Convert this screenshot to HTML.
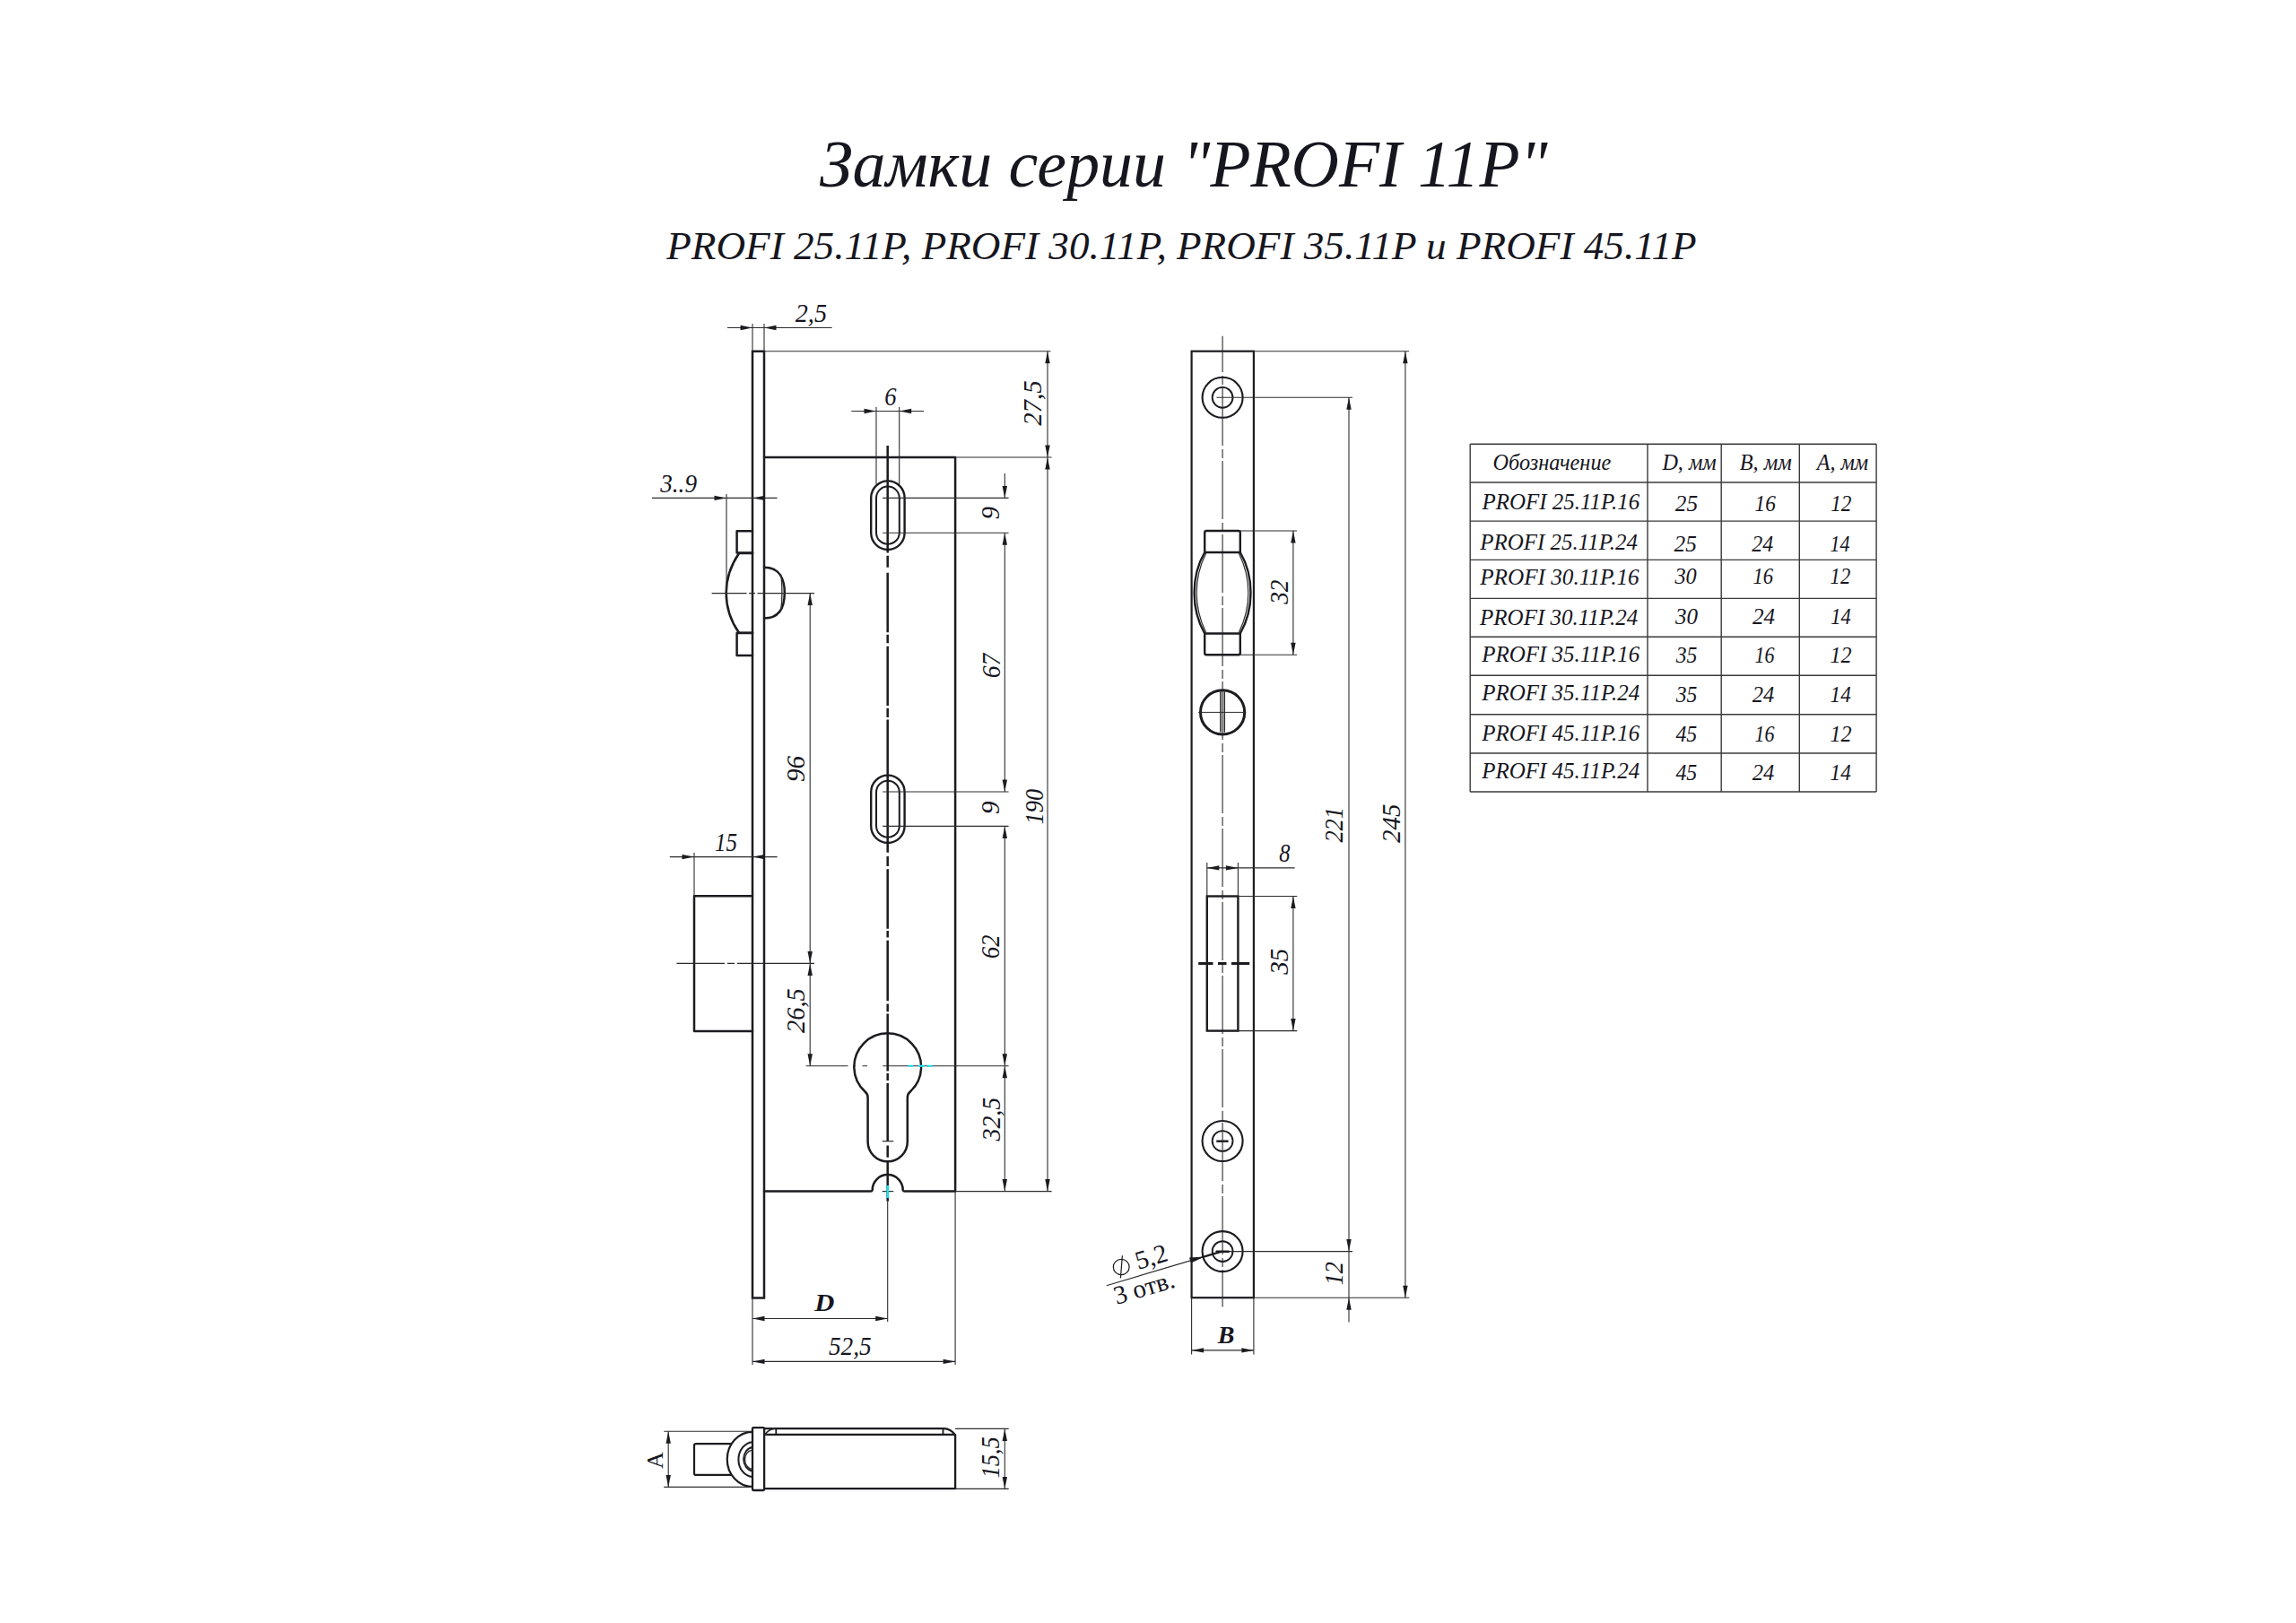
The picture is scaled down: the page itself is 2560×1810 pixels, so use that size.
<!DOCTYPE html>
<html><head><meta charset="utf-8"><style>
html,body{margin:0;padding:0;background:#fff;}
body{width:2560px;height:1810px;overflow:hidden;}
svg{display:block;}
text{-webkit-font-smoothing:antialiased;}
</style></head><body>
<svg width="2560" height="1810" viewBox="0 0 2560 1810">
<rect width="2560" height="1810" fill="#fff"/>
<g transform="translate(914.00 208.40) scale(0.9848 1)"><text font-family="Liberation Serif" font-size="75" font-style="italic" font-weight="normal" fill="#16161e">Замки серии "PROFI 11P"</text></g>
<g transform="translate(743.25 289.10) scale(1.0042 1)"><text font-family="Liberation Serif" font-size="45" font-style="italic" font-weight="normal" fill="#16161e">PROFI 25.11P, PROFI 30.11P, PROFI 35.11P и PROFI 45.11P</text></g>
<rect x="839.0" y="391.8" width="13.0" height="1055.7" rx="0" stroke="#1c1c20" stroke-width="2.5" fill="none"/>
<path d="M852.0,510 L1065.1,510 L1065.1,1328.6 L1008.7,1328.6 A2 2 0 0 1 1006.7,1327.1 A17.0 17.0 0 0 0 972.7,1327.1 A2 2 0 0 1 970.7,1328.6 L852.0,1328.6" stroke="#1c1c20" stroke-width="2.5" fill="none" stroke-linejoin="round" stroke-linecap="round"/>
<rect x="971.2" y="536.4" width="37.4" height="76.6" rx="18.7" stroke="#1c1c20" stroke-width="2.4" fill="none"/>
<rect x="977.0" y="542.6" width="25.8" height="64.2" rx="12.9" stroke="#1c1c20" stroke-width="2.0" fill="none"/>
<rect x="971.2" y="864.6" width="37.4" height="75.4" rx="18.7" stroke="#1c1c20" stroke-width="2.4" fill="none"/>
<rect x="977.0" y="870.8" width="25.8" height="63.0" rx="12.9" stroke="#1c1c20" stroke-width="2.0" fill="none"/>
<path d="M989.7,497.0V616.4 M989.7,619.8V632.8 M989.7,638.8V705.2 M989.7,707.8V717.2 M989.7,720.7V787.0 M989.7,789.7V800.0 M989.7,802.6V950.8 M989.7,955.0V966.0 M989.7,969.3V1035.7 M989.7,1037.9V1045.5 M989.7,1048.8V1116.3 M989.7,1119.5V1128.3 M989.7,1130.4V1194.5 M989.7,1197.0V1205.0 M989.7,1208.0V1273.0 M989.7,1277.6V1290.7 M989.7,1295.0V1339.7" stroke="#1c1c20" stroke-width="2.5" fill="none"/>
<path d="M967.6,1273.2 L967.6,1224 Q967.6,1220 964.6,1217.5 A37.4 37.4 0 1 1 1014.8,1217.5 Q1011.8,1220 1011.8,1224 L1011.8,1273.2 A22.1 22.1 0 0 1 967.6,1273.2 Z" stroke="#1c1c20" stroke-width="2.5" fill="none" stroke-linejoin="round" stroke-linecap="round"/>
<line x1="983.7" y1="1272.7" x2="996.2" y2="1272.7" stroke="#2c2c2c" stroke-width="1.2" stroke-linecap="butt"/>
<line x1="983.7" y1="1328.6" x2="996.2" y2="1328.6" stroke="#2c2c2c" stroke-width="1.2" stroke-linecap="butt"/>
<path d="M839.0,592.3 L821.6,592.3 L821.6,616.6 L839.0,616.6" stroke="#1c1c20" stroke-width="2.5" fill="none" stroke-linejoin="round" stroke-linecap="round"/>
<path d="M839.0,617 L824,617 Q809.7,638 809.7,661.4 Q809.7,685 824,705.8 L839.0,705.8" stroke="#1c1c20" stroke-width="2.5" fill="none" stroke-linejoin="round" stroke-linecap="round"/>
<path d="M839.0,705.9 L821.6,705.9 L821.6,730.9 L839.0,730.9" stroke="#1c1c20" stroke-width="2.5" fill="none" stroke-linejoin="round" stroke-linecap="round"/>
<path d="M852.0,632.8 C870,632.8 874.8,647 874.8,661 C874.8,676 870,689.5 852.0,689.5" stroke="#1c1c20" stroke-width="2.5" fill="none" stroke-linejoin="round" stroke-linecap="round"/>
<path d="M870.6,641 C872.3,650 872.3,671 870.6,680" stroke="#2c2c2c" stroke-width="1.3" fill="none" stroke-linejoin="round" stroke-linecap="round"/>
<path d="M839.0,999.3 L774,999.3 L774,1150 L839.0,1150" stroke="#1c1c20" stroke-width="2.5" fill="none" stroke-linejoin="round" stroke-linecap="round"/>
<line x1="839.0" y1="361.0" x2="839.0" y2="391.8" stroke="#2c2c2c" stroke-width="1.1" stroke-linecap="butt"/>
<line x1="852.0" y1="361.0" x2="852.0" y2="391.8" stroke="#2c2c2c" stroke-width="1.1" stroke-linecap="butt"/>
<line x1="811.0" y1="365.5" x2="927.6" y2="365.5" stroke="#2c2c2c" stroke-width="1.1" stroke-linecap="butt"/>
<polygon points="839.0,365.5 825.5,362.8 825.5,368.2" fill="#1c1c20"/>
<polygon points="852.0,365.5 865.5,362.8 865.5,368.2" fill="#1c1c20"/>
<g transform="translate(886.80 359.00) scale(0.9874 1)"><text font-family="Liberation Serif" font-size="28.5" font-style="italic" font-weight="normal" fill="#16161e">2,5</text></g>
<line x1="852.0" y1="391.8" x2="1171.5" y2="391.8" stroke="#2c2c2c" stroke-width="1.1" stroke-linecap="butt"/>
<line x1="1065.1" y1="510.0" x2="1172.6" y2="510.0" stroke="#2c2c2c" stroke-width="1.1" stroke-linecap="butt"/>
<line x1="1168.0" y1="391.8" x2="1168.0" y2="1328.6" stroke="#2c2c2c" stroke-width="1.1" stroke-linecap="butt"/>
<polygon points="1168.0,391.8 1165.3,405.3 1170.7,405.3" fill="#1c1c20"/>
<polygon points="1168.0,510.0 1165.3,496.5 1170.7,496.5" fill="#1c1c20"/>
<polygon points="1168.0,510.0 1165.3,523.5 1170.7,523.5" fill="#1c1c20"/>
<polygon points="1168.0,1328.6 1165.3,1315.1 1170.7,1315.1" fill="#1c1c20"/>
<g transform="translate(1152.0 449.5) rotate(-90) scale(1.0140 1)"><text x="-25.00" y="9.41" font-family="Liberation Serif" font-size="28.5" font-style="italic" font-weight="normal" fill="#16161e">27,5</text></g>
<g transform="translate(1153.1 899.6) rotate(-90) scale(0.9263 1)"><text x="-21.38" y="9.41" font-family="Liberation Serif" font-size="28.5" font-style="italic" font-weight="normal" fill="#16161e">190</text></g>
<line x1="977.0" y1="454.0" x2="977.0" y2="540.0" stroke="#2c2c2c" stroke-width="1.1" stroke-linecap="butt"/>
<line x1="1002.7" y1="454.0" x2="1002.7" y2="540.0" stroke="#2c2c2c" stroke-width="1.1" stroke-linecap="butt"/>
<line x1="949.3" y1="458.5" x2="1030.0" y2="458.5" stroke="#2c2c2c" stroke-width="1.1" stroke-linecap="butt"/>
<polygon points="977.0,458.5 963.5,455.8 963.5,461.2" fill="#1c1c20"/>
<polygon points="1002.7,458.5 1016.2,455.8 1016.2,461.2" fill="#1c1c20"/>
<g transform="translate(986.20 451.50) scale(0.9333 1)"><text font-family="Liberation Serif" font-size="28.5" font-style="italic" font-weight="normal" fill="#16161e">6</text></g>
<line x1="984.2" y1="555.4" x2="1124.6" y2="555.4" stroke="#2c2c2c" stroke-width="1.1" stroke-linecap="butt"/>
<line x1="984.2" y1="594.2" x2="1124.6" y2="594.2" stroke="#2c2c2c" stroke-width="1.1" stroke-linecap="butt"/>
<line x1="984.2" y1="883.0" x2="1124.6" y2="883.0" stroke="#2c2c2c" stroke-width="1.1" stroke-linecap="butt"/>
<line x1="984.2" y1="921.4" x2="1124.6" y2="921.4" stroke="#2c2c2c" stroke-width="1.1" stroke-linecap="butt"/>
<line x1="1120.3" y1="528.0" x2="1120.3" y2="555.4" stroke="#2c2c2c" stroke-width="1.1" stroke-linecap="butt"/>
<polygon points="1120.3,555.4 1117.6,541.9 1123.0,541.9" fill="#1c1c20"/>
<line x1="1120.3" y1="594.2" x2="1120.3" y2="883.0" stroke="#2c2c2c" stroke-width="1.1" stroke-linecap="butt"/>
<polygon points="1120.3,594.2 1117.6,607.7 1123.0,607.7" fill="#1c1c20"/>
<polygon points="1120.3,883.0 1117.6,869.5 1123.0,869.5" fill="#1c1c20"/>
<line x1="1120.3" y1="921.4" x2="1120.3" y2="1328.6" stroke="#2c2c2c" stroke-width="1.1" stroke-linecap="butt"/>
<polygon points="1120.3,921.4 1117.6,934.9 1123.0,934.9" fill="#1c1c20"/>
<polygon points="1120.3,1188.8 1117.6,1175.3 1123.0,1175.3" fill="#1c1c20"/>
<polygon points="1120.3,1188.8 1117.6,1202.3 1123.0,1202.3" fill="#1c1c20"/>
<polygon points="1120.3,1328.6 1117.6,1315.1 1123.0,1315.1" fill="#1c1c20"/>
<g transform="translate(1104.6 572.0) rotate(-90) scale(1.0035 1)"><text x="-7.12" y="9.41" font-family="Liberation Serif" font-size="28.5" font-style="italic" font-weight="normal" fill="#16161e">9</text></g>
<g transform="translate(1105.4 742.0) rotate(-90) scale(0.9729 1)"><text x="-14.75" y="9.41" font-family="Liberation Serif" font-size="28.5" font-style="italic" font-weight="normal" fill="#16161e">67</text></g>
<g transform="translate(1104.5 900.7) rotate(-90) scale(1.0105 1)"><text x="-7.12" y="9.41" font-family="Liberation Serif" font-size="28.5" font-style="italic" font-weight="normal" fill="#16161e">9</text></g>
<g transform="translate(1104.4 1055.8) rotate(-90) scale(0.9263 1)"><text x="-14.25" y="9.41" font-family="Liberation Serif" font-size="28.5" font-style="italic" font-weight="normal" fill="#16161e">62</text></g>
<g transform="translate(1105.5 1248.2) rotate(-90) scale(0.9731 1)"><text x="-24.88" y="9.41" font-family="Liberation Serif" font-size="28.5" font-style="italic" font-weight="normal" fill="#16161e">32,5</text></g>
<line x1="1065.1" y1="1328.6" x2="1172.6" y2="1328.6" stroke="#2c2c2c" stroke-width="1.1" stroke-linecap="butt"/>
<line x1="727.0" y1="555.4" x2="866.6" y2="555.4" stroke="#2c2c2c" stroke-width="1.1" stroke-linecap="butt"/>
<polygon points="810.0,555.4 796.5,552.7 796.5,558.1" fill="#1c1c20"/>
<polygon points="839.0,555.4 852.5,552.7 852.5,558.1" fill="#1c1c20"/>
<line x1="810.0" y1="551.0" x2="810.0" y2="661.0" stroke="#2c2c2c" stroke-width="1.1" stroke-linecap="butt"/>
<g transform="translate(736.24 549.00) scale(0.9535 1)"><text font-family="Liberation Serif" font-size="28.5" font-style="italic" font-weight="normal" fill="#16161e">3..9</text></g>
<path d="M793.6,661.6H832.5 M835.0,661.6H842.0 M844.5,661.6H908.0" stroke="#2c2c2c" stroke-width="1.1" fill="none"/>
<line x1="903.2" y1="661.6" x2="903.2" y2="1188.8" stroke="#2c2c2c" stroke-width="1.1" stroke-linecap="butt"/>
<polygon points="903.2,661.6 900.5,675.1 905.9,675.1" fill="#1c1c20"/>
<polygon points="903.2,1074.4 900.5,1060.9 905.9,1060.9" fill="#1c1c20"/>
<polygon points="903.2,1074.4 900.5,1087.9 905.9,1087.9" fill="#1c1c20"/>
<polygon points="903.2,1188.8 900.5,1175.3 905.9,1175.3" fill="#1c1c20"/>
<g transform="translate(887.5 857.4) rotate(-90) scale(1.0211 1)"><text x="-14.25" y="9.41" font-family="Liberation Serif" font-size="28.5" font-style="italic" font-weight="normal" fill="#16161e">96</text></g>
<g transform="translate(887.2 1127.1) rotate(-90) scale(0.9960 1)"><text x="-25.00" y="9.41" font-family="Liberation Serif" font-size="28.5" font-style="italic" font-weight="normal" fill="#16161e">26,5</text></g>
<line x1="746.8" y1="955.6" x2="866.6" y2="955.6" stroke="#2c2c2c" stroke-width="1.1" stroke-linecap="butt"/>
<polygon points="774.0,955.6 760.5,952.9 760.5,958.3" fill="#1c1c20"/>
<polygon points="839.0,955.6 852.5,952.9 852.5,958.3" fill="#1c1c20"/>
<line x1="774.0" y1="951.0" x2="774.0" y2="999.3" stroke="#2c2c2c" stroke-width="1.1" stroke-linecap="butt"/>
<g transform="translate(797.00 948.60) scale(0.8772 1)"><text font-family="Liberation Serif" font-size="28.5" font-style="italic" font-weight="normal" fill="#16161e">15</text></g>
<path d="M754.4,1074.4H808.0 M811.0,1074.4H819.0 M822.0,1074.4H908.0" stroke="#2c2c2c" stroke-width="1.1" fill="none"/>
<path d="M898.6,1188.8H945.5 M951.0,1188.8H954.0 M961.5,1188.8H967.0 M984.3,1188.8H1124.6" stroke="#2c2c2c" stroke-width="1.1" fill="none"/>
<line x1="1012.6" y1="1188.8" x2="1018.2" y2="1188.8" stroke="#1fe0ee" stroke-width="2.2" stroke-linecap="butt"/>
<line x1="1023.7" y1="1188.8" x2="1030.5" y2="1188.8" stroke="#1fe0ee" stroke-width="2.2" stroke-linecap="butt"/>
<line x1="1033.6" y1="1188.8" x2="1039.7" y2="1188.8" stroke="#1fe0ee" stroke-width="2.2" stroke-linecap="butt"/>
<line x1="989.7" y1="1322.0" x2="989.7" y2="1336.0" stroke="#1fe0ee" stroke-width="2.5" stroke-linecap="butt"/>
<line x1="989.7" y1="1339.7" x2="989.7" y2="1474.0" stroke="#2c2c2c" stroke-width="1.1" stroke-linecap="butt"/>
<line x1="1065.1" y1="1328.6" x2="1065.1" y2="1522.0" stroke="#2c2c2c" stroke-width="1.1" stroke-linecap="butt"/>
<line x1="839.0" y1="1447.5" x2="839.0" y2="1522.0" stroke="#2c2c2c" stroke-width="1.1" stroke-linecap="butt"/>
<line x1="839.0" y1="1470.5" x2="989.7" y2="1470.5" stroke="#2c2c2c" stroke-width="1.1" stroke-linecap="butt"/>
<polygon points="839.0,1470.5 852.5,1467.8 852.5,1473.2" fill="#1c1c20"/>
<polygon points="989.7,1470.5 976.2,1467.8 976.2,1473.2" fill="#1c1c20"/>
<g transform="translate(908.27 1461.80) scale(1.0927 1)"><text font-family="Liberation Serif" font-size="28" font-style="italic" font-weight="bold" fill="#16161e">D</text></g>
<line x1="839.0" y1="1518.4" x2="1065.1" y2="1518.4" stroke="#2c2c2c" stroke-width="1.1" stroke-linecap="butt"/>
<polygon points="839.0,1518.4 852.5,1515.7 852.5,1521.1" fill="#1c1c20"/>
<polygon points="1065.1,1518.4 1051.6,1515.7 1051.6,1521.1" fill="#1c1c20"/>
<g transform="translate(923.90 1510.80) scale(0.9580 1)"><text font-family="Liberation Serif" font-size="28.5" font-style="italic" font-weight="normal" fill="#16161e">52,5</text></g>
<rect x="839.0" y="1592.2" width="13.1" height="69.8" rx="1" stroke="#1c1c20" stroke-width="2.3" fill="none"/>
<path d="M852.1,1593.2 L1052.5,1593.2 Q1060,1593.6 1064.5,1599.8 L1065.1,1599.8 L1065.1,1660.2 L852.1,1660.2" stroke="#1c1c20" stroke-width="2.3" fill="none" stroke-linejoin="round" stroke-linecap="round"/>
<line x1="852.1" y1="1599.8" x2="1065.1" y2="1599.8" stroke="#1c1c20" stroke-width="2.3" stroke-linecap="butt"/>
<path d="M853,1599.8 Q857,1594 863.6,1593.2" stroke="#2c2c2c" stroke-width="1.8" fill="none" stroke-linejoin="round" stroke-linecap="round"/>
<line x1="865.3" y1="1593.2" x2="865.3" y2="1599.8" stroke="#1c1c20" stroke-width="1.8" stroke-linecap="butt"/>
<line x1="1051.5" y1="1593.2" x2="1051.5" y2="1599.8" stroke="#1c1c20" stroke-width="1.8" stroke-linecap="butt"/>
<line x1="1065.1" y1="1593.4" x2="1124.7" y2="1593.4" stroke="#2c2c2c" stroke-width="1.1" stroke-linecap="butt"/>
<line x1="1065.1" y1="1660.4" x2="1124.7" y2="1660.4" stroke="#2c2c2c" stroke-width="1.1" stroke-linecap="butt"/>
<line x1="1120.3" y1="1593.4" x2="1120.3" y2="1660.4" stroke="#2c2c2c" stroke-width="1.1" stroke-linecap="butt"/>
<polygon points="1120.3,1593.4 1117.6,1606.9 1123.0,1606.9" fill="#1c1c20"/>
<polygon points="1120.3,1660.4 1117.6,1646.9 1123.0,1646.9" fill="#1c1c20"/>
<g transform="translate(1104.7 1625.4) rotate(-90) scale(0.9280 1)"><text x="-25.00" y="9.41" font-family="Liberation Serif" font-size="28.5" font-style="italic" font-weight="normal" fill="#16161e">15,5</text></g>
<path d="M839.0,1596.8 A28.3 30.6 0 0 0 839.0,1658" stroke="#1c1c20" stroke-width="2.2" fill="none" stroke-linejoin="round" stroke-linecap="round"/>
<path d="M839.0,1608.3 A16.8 19.4 0 0 0 839.0,1647" stroke="#1c1c20" stroke-width="2.0" fill="none" stroke-linejoin="round" stroke-linecap="round"/>
<path d="M839.0,1614 A10.8 13.3 0 0 0 839.0,1640.5" stroke="#1c1c20" stroke-width="1.9" fill="none" stroke-linejoin="round" stroke-linecap="round"/>
<path d="M839.0,1617.4 A8.4 10.4 0 0 0 839.0,1638.3" stroke="#2c2c2c" stroke-width="1.3" fill="none" stroke-linejoin="round" stroke-linecap="round"/>
<path d="M814.8,1610.1 L776,1610.1 Q774,1610.1 774,1612.1 L774,1642.9 Q774,1644.9 776,1644.9 L814.8,1644.9" stroke="#1c1c20" stroke-width="2.2" fill="none" stroke-linejoin="round" stroke-linecap="round"/>
<line x1="740.2" y1="1596.3" x2="838.5" y2="1596.3" stroke="#2c2c2c" stroke-width="1.1" stroke-linecap="butt"/>
<line x1="740.2" y1="1658.4" x2="838.5" y2="1658.4" stroke="#2c2c2c" stroke-width="1.1" stroke-linecap="butt"/>
<line x1="745.2" y1="1596.3" x2="745.2" y2="1658.4" stroke="#2c2c2c" stroke-width="1.1" stroke-linecap="butt"/>
<polygon points="745.2,1596.3 742.5,1609.8 747.9,1609.8" fill="#1c1c20"/>
<polygon points="745.2,1658.4 742.5,1644.9 747.9,1644.9" fill="#1c1c20"/>
<g transform="translate(730.1 1628.5) rotate(-90) scale(1.0000 1)"><text x="-9.38" y="8.58" font-family="Liberation Serif" font-size="26" font-style="normal" font-weight="normal" fill="#16161e">A</text></g>
<rect x="1328.6" y="391.7" width="69.3" height="1055.5" rx="0" stroke="#1c1c20" stroke-width="2.2" fill="none"/>
<line x1="1363.1" y1="374.7" x2="1363.1" y2="1457.5" stroke="#2c2c2c" stroke-width="1.1" stroke-linecap="butt" stroke-dasharray="65 4 10 3" stroke-dashoffset="24.8"/>
<circle cx="1363.1" cy="443.3" r="22.5" stroke="#1c1c20" stroke-width="2.1" fill="none"/>
<circle cx="1363.1" cy="443.3" r="11.4" stroke="#1c1c20" stroke-width="1.9" fill="none"/>
<circle cx="1363.1" cy="1272.5" r="22.5" stroke="#1c1c20" stroke-width="2.1" fill="none"/>
<circle cx="1363.1" cy="1272.5" r="11.4" stroke="#1c1c20" stroke-width="1.9" fill="none"/>
<circle cx="1363.1" cy="1395.6" r="22.5" stroke="#1c1c20" stroke-width="2.1" fill="none"/>
<circle cx="1363.1" cy="1395.6" r="11.4" stroke="#1c1c20" stroke-width="1.9" fill="none"/>
<line x1="1356.3" y1="1272.7" x2="1369.6" y2="1272.7" stroke="#1c1c20" stroke-width="2.4" stroke-linecap="butt"/>
<line x1="1356.4" y1="443.3" x2="1508.0" y2="443.3" stroke="#2c2c2c" stroke-width="1.1" stroke-linecap="butt"/>
<path d="M1343.2,616 L1343.2,594 Q1343.2,592 1345.2,592 L1380.8,592 Q1382.8,592 1382.8,594 L1382.8,616 Z" stroke="#1c1c20" stroke-width="2.4" fill="none" stroke-linejoin="round" stroke-linecap="round"/>
<path d="M1343.2,706.5 L1343.2,728.3 Q1343.2,730.3 1345.2,730.3 L1380.8,730.3 Q1382.8,730.3 1382.8,728.3 L1382.8,706.5 Z" stroke="#1c1c20" stroke-width="2.4" fill="none" stroke-linejoin="round" stroke-linecap="round"/>
<path d="M1343.2,616 Q1331.6,636 1331.6,661.2 Q1331.6,686 1343.2,706.5" stroke="#1c1c20" stroke-width="2.4" fill="none" stroke-linejoin="round" stroke-linecap="round"/>
<path d="M1382.8,616 Q1394.5,636 1394.5,661.2 Q1394.5,686 1382.8,706.5" stroke="#1c1c20" stroke-width="2.4" fill="none" stroke-linejoin="round" stroke-linecap="round"/>
<path d="M1344.5,617.5 Q1334.2,638 1334.2,661.2 Q1334.2,684 1344.5,705" stroke="#2c2c2c" stroke-width="1.2" fill="none" stroke-linejoin="round" stroke-linecap="round"/>
<path d="M1381.5,617.5 Q1391.8,638 1391.8,661.2 Q1391.8,684 1381.5,705" stroke="#2c2c2c" stroke-width="1.2" fill="none" stroke-linejoin="round" stroke-linecap="round"/>
<line x1="1382.8" y1="592.0" x2="1446.0" y2="592.0" stroke="#2c2c2c" stroke-width="1.1" stroke-linecap="butt"/>
<line x1="1382.8" y1="730.3" x2="1446.0" y2="730.3" stroke="#2c2c2c" stroke-width="1.1" stroke-linecap="butt"/>
<line x1="1441.9" y1="592.0" x2="1441.9" y2="730.3" stroke="#2c2c2c" stroke-width="1.1" stroke-linecap="butt"/>
<polygon points="1441.9,592.0 1439.2,605.5 1444.6,605.5" fill="#1c1c20"/>
<polygon points="1441.9,730.3 1439.2,716.8 1444.6,716.8" fill="#1c1c20"/>
<g transform="translate(1426.5 660.3) rotate(-90) scale(0.9530 1)"><text x="-14.12" y="9.41" font-family="Liberation Serif" font-size="28.5" font-style="italic" font-weight="normal" fill="#16161e">32</text></g>
<circle cx="1363.1" cy="794.4" r="24.6" stroke="#1c1c20" stroke-width="3.0" fill="none"/>
<line x1="1336.2" y1="794.4" x2="1389.3" y2="794.4" stroke="#2c2c2c" stroke-width="1.0" stroke-linecap="butt"/>
<path d="M1360.9,771.8 L1360.9,816 M1365.3,771.8 L1365.3,816" stroke="#2c2c2c" stroke-width="1.5" fill="none" stroke-linejoin="round" stroke-linecap="round"/>
<line x1="1345.8" y1="962.0" x2="1345.8" y2="999.5" stroke="#2c2c2c" stroke-width="1.1" stroke-linecap="butt"/>
<line x1="1380.4" y1="962.0" x2="1380.4" y2="999.5" stroke="#2c2c2c" stroke-width="1.1" stroke-linecap="butt"/>
<line x1="1345.8" y1="967.9" x2="1443.7" y2="967.9" stroke="#2c2c2c" stroke-width="1.1" stroke-linecap="butt"/>
<polygon points="1345.8,967.9 1359.3,965.2 1359.3,970.6" fill="#1c1c20"/>
<polygon points="1380.4,967.9 1366.9,965.2 1366.9,970.6" fill="#1c1c20"/>
<g transform="translate(1426.30 960.60) scale(0.8561 1)"><text font-family="Liberation Serif" font-size="28.5" font-style="italic" font-weight="normal" fill="#16161e">8</text></g>
<rect x="1345.8" y="999.5" width="34.6" height="150.1" rx="0" stroke="#1c1c20" stroke-width="2.4" fill="none"/>
<line x1="1380.4" y1="999.5" x2="1446.3" y2="999.5" stroke="#2c2c2c" stroke-width="1.1" stroke-linecap="butt"/>
<line x1="1380.4" y1="1149.6" x2="1446.3" y2="1149.6" stroke="#2c2c2c" stroke-width="1.1" stroke-linecap="butt"/>
<line x1="1441.9" y1="999.5" x2="1441.9" y2="1149.6" stroke="#2c2c2c" stroke-width="1.1" stroke-linecap="butt"/>
<polygon points="1441.9,999.5 1439.2,1013.0 1444.6,1013.0" fill="#1c1c20"/>
<polygon points="1441.9,1149.6 1439.2,1136.1 1444.6,1136.1" fill="#1c1c20"/>
<g transform="translate(1426.3 1072.5) rotate(-90) scale(1.0122 1)"><text x="-14.12" y="9.41" font-family="Liberation Serif" font-size="28.5" font-style="italic" font-weight="normal" fill="#16161e">35</text></g>
<path d="M1336.2,1074.5H1352.5 M1358.0,1074.5H1367.5 M1373.0,1074.5H1393.2" stroke="#1c1c20" stroke-width="3.0" fill="none"/>
<line x1="1504.0" y1="443.3" x2="1504.0" y2="1474.4" stroke="#2c2c2c" stroke-width="1.1" stroke-linecap="butt"/>
<polygon points="1504.0,443.3 1501.3,456.8 1506.7,456.8" fill="#1c1c20"/>
<polygon points="1504.0,1395.6 1501.3,1382.1 1506.7,1382.1" fill="#1c1c20"/>
<polygon points="1504.0,1447.2 1501.3,1460.7 1506.7,1460.7" fill="#1c1c20"/>
<line x1="1370.0" y1="1395.6" x2="1508.0" y2="1395.6" stroke="#2c2c2c" stroke-width="1.1" stroke-linecap="butt"/>
<line x1="1397.9" y1="391.7" x2="1571.0" y2="391.7" stroke="#2c2c2c" stroke-width="1.1" stroke-linecap="butt"/>
<line x1="1397.9" y1="1447.2" x2="1571.3" y2="1447.2" stroke="#2c2c2c" stroke-width="1.1" stroke-linecap="butt"/>
<line x1="1566.9" y1="391.7" x2="1566.9" y2="1447.2" stroke="#2c2c2c" stroke-width="1.1" stroke-linecap="butt"/>
<polygon points="1566.9,391.7 1564.2,405.2 1569.6,405.2" fill="#1c1c20"/>
<polygon points="1566.9,1447.2 1564.2,1433.7 1569.6,1433.7" fill="#1c1c20"/>
<g transform="translate(1487.8 919.8) rotate(-90) scale(0.9263 1)"><text x="-21.38" y="9.41" font-family="Liberation Serif" font-size="28.5" font-style="italic" font-weight="normal" fill="#16161e">221</text></g>
<g transform="translate(1551.2 918.2) rotate(-90) scale(1.0152 1)"><text x="-21.38" y="9.41" font-family="Liberation Serif" font-size="28.5" font-style="italic" font-weight="normal" fill="#16161e">245</text></g>
<g transform="translate(1487.8 1420.2) rotate(-90) scale(0.9158 1)"><text x="-14.25" y="9.41" font-family="Liberation Serif" font-size="28.5" font-style="italic" font-weight="normal" fill="#16161e">12</text></g>
<line x1="1328.6" y1="1447.2" x2="1328.6" y2="1510.6" stroke="#2c2c2c" stroke-width="1.1" stroke-linecap="butt"/>
<line x1="1397.9" y1="1447.2" x2="1397.9" y2="1510.6" stroke="#2c2c2c" stroke-width="1.1" stroke-linecap="butt"/>
<line x1="1328.6" y1="1505.9" x2="1397.9" y2="1505.9" stroke="#2c2c2c" stroke-width="1.1" stroke-linecap="butt"/>
<polygon points="1328.6,1505.9 1342.1,1503.2 1342.1,1508.6" fill="#1c1c20"/>
<polygon points="1397.9,1505.9 1384.4,1503.2 1384.4,1508.6" fill="#1c1c20"/>
<text x="1357.78" y="1497.60" font-family="Liberation Serif" font-size="28" font-style="italic" font-weight="bold" fill="#16161e">B</text>
<line x1="1233.7" y1="1433.7" x2="1340.8" y2="1401.9" stroke="#2c2c2c" stroke-width="1.1" stroke-linecap="butt"/>
<path d="M1341,1401.9 L1360.7,1396.1 M1356.5,1395.7 L1369.8,1395.7" stroke="#1c1c20" stroke-width="2.4" fill="none" stroke-linejoin="round" stroke-linecap="round"/>
<polygon points="1343,1401.5 1326,1402.5 1328,1408.5" fill="#1c1c20"/>
<g transform="translate(1269 1416) rotate(-16.5)"><text x="0" y="0" font-family="Liberation Serif" font-size="29" fill="#16161e">5,2</text></g>
<ellipse cx="1250.2" cy="1413" rx="8.9" ry="8.7" stroke="#1c1c20" stroke-width="1.2" fill="none"/>
<line x1="1251.4" y1="1400.2" x2="1249.4" y2="1425.4" stroke="#1c1c20" stroke-width="1.2" stroke-linecap="butt"/>
<g transform="translate(1245 1455) rotate(-16.5)"><text x="0" y="0" font-family="Liberation Serif" font-size="29" fill="#16161e">3 отв.</text></g>
<line x1="1639.2" y1="495.3" x2="1639.2" y2="883.0" stroke="#3a3a3a" stroke-width="1.4" stroke-linecap="butt"/>
<line x1="1837.0" y1="495.3" x2="1837.0" y2="883.0" stroke="#3a3a3a" stroke-width="1.4" stroke-linecap="butt"/>
<line x1="1919.2" y1="495.3" x2="1919.2" y2="883.0" stroke="#3a3a3a" stroke-width="1.4" stroke-linecap="butt"/>
<line x1="2006.3" y1="495.3" x2="2006.3" y2="883.0" stroke="#3a3a3a" stroke-width="1.4" stroke-linecap="butt"/>
<line x1="2092.1" y1="495.3" x2="2092.1" y2="883.0" stroke="#3a3a3a" stroke-width="1.4" stroke-linecap="butt"/>
<line x1="1639.2" y1="495.3" x2="2092.1" y2="495.3" stroke="#3a3a3a" stroke-width="1.4" stroke-linecap="butt"/>
<line x1="1639.2" y1="538.0" x2="2092.1" y2="538.0" stroke="#3a3a3a" stroke-width="1.4" stroke-linecap="butt"/>
<line x1="1639.2" y1="581.1" x2="2092.1" y2="581.1" stroke="#3a3a3a" stroke-width="1.4" stroke-linecap="butt"/>
<line x1="1639.2" y1="624.4" x2="2092.1" y2="624.4" stroke="#3a3a3a" stroke-width="1.4" stroke-linecap="butt"/>
<line x1="1639.2" y1="667.4" x2="2092.1" y2="667.4" stroke="#3a3a3a" stroke-width="1.4" stroke-linecap="butt"/>
<line x1="1639.2" y1="710.3" x2="2092.1" y2="710.3" stroke="#3a3a3a" stroke-width="1.4" stroke-linecap="butt"/>
<line x1="1639.2" y1="753.3" x2="2092.1" y2="753.3" stroke="#3a3a3a" stroke-width="1.4" stroke-linecap="butt"/>
<line x1="1639.2" y1="796.7" x2="2092.1" y2="796.7" stroke="#3a3a3a" stroke-width="1.4" stroke-linecap="butt"/>
<line x1="1639.2" y1="840.0" x2="2092.1" y2="840.0" stroke="#3a3a3a" stroke-width="1.4" stroke-linecap="butt"/>
<line x1="1639.2" y1="883.0" x2="2092.1" y2="883.0" stroke="#3a3a3a" stroke-width="1.4" stroke-linecap="butt"/>
<g transform="translate(1664.50 524.00) scale(0.9709 1)"><text font-family="Liberation Serif" font-size="25" font-style="italic" font-weight="normal" fill="#16161e">Обозначение</text></g>
<g transform="translate(1853.38 523.90) scale(0.9667 1)"><text font-family="Liberation Serif" font-size="25" font-style="italic" font-weight="normal" fill="#16161e">D, мм</text></g>
<g transform="translate(1939.70 523.90) scale(0.9741 1)"><text font-family="Liberation Serif" font-size="25" font-style="italic" font-weight="normal" fill="#16161e">B, мм</text></g>
<g transform="translate(2025.84 523.90) scale(0.9616 1)"><text font-family="Liberation Serif" font-size="25" font-style="italic" font-weight="normal" fill="#16161e">A, мм</text></g>
<g transform="translate(1652.45 567.90) scale(0.9989 1)"><text font-family="Liberation Serif" font-size="25" font-style="italic" font-weight="normal" fill="#16161e">PROFI 25.11P.16</text></g>
<g transform="translate(1867.80 569.60) scale(1.0120 1)"><text font-family="Liberation Serif" font-size="25" font-style="italic" font-weight="normal" fill="#16161e">25</text></g>
<g transform="translate(1956.50 569.60) scale(0.9320 1)"><text font-family="Liberation Serif" font-size="25" font-style="italic" font-weight="normal" fill="#16161e">16</text></g>
<g transform="translate(2041.20 569.60) scale(0.9320 1)"><text font-family="Liberation Serif" font-size="25" font-style="italic" font-weight="normal" fill="#16161e">12</text></g>
<g transform="translate(1650.15 612.90) scale(0.9983 1)"><text font-family="Liberation Serif" font-size="25" font-style="italic" font-weight="normal" fill="#16161e">PROFI 25.11P.24</text></g>
<g transform="translate(1866.50 614.90) scale(1.0120 1)"><text font-family="Liberation Serif" font-size="25" font-style="italic" font-weight="normal" fill="#16161e">25</text></g>
<g transform="translate(1953.20 614.90) scale(0.9600 1)"><text font-family="Liberation Serif" font-size="25" font-style="italic" font-weight="normal" fill="#16161e">24</text></g>
<g transform="translate(2040.60 614.90) scale(0.8800 1)"><text font-family="Liberation Serif" font-size="25" font-style="italic" font-weight="normal" fill="#16161e">14</text></g>
<g transform="translate(1650.15 652.20) scale(1.0085 1)"><text font-family="Liberation Serif" font-size="25" font-style="italic" font-weight="normal" fill="#16161e">PROFI 30.11P.16</text></g>
<g transform="translate(1867.44 650.50) scale(0.9743 1)"><text font-family="Liberation Serif" font-size="25" font-style="italic" font-weight="normal" fill="#16161e">30</text></g>
<g transform="translate(1954.50 650.50) scale(0.9080 1)"><text font-family="Liberation Serif" font-size="25" font-style="italic" font-weight="normal" fill="#16161e">16</text></g>
<g transform="translate(2040.60 650.50) scale(0.9040 1)"><text font-family="Liberation Serif" font-size="25" font-style="italic" font-weight="normal" fill="#16161e">12</text></g>
<g transform="translate(1650.05 696.60) scale(1.0000 1)"><text font-family="Liberation Serif" font-size="25" font-style="italic" font-weight="normal" fill="#16161e">PROFI 30.11P.24</text></g>
<g transform="translate(1868.05 695.80) scale(1.0020 1)"><text font-family="Liberation Serif" font-size="25" font-style="italic" font-weight="normal" fill="#16161e">30</text></g>
<g transform="translate(1953.90 695.80) scale(1.0080 1)"><text font-family="Liberation Serif" font-size="25" font-style="italic" font-weight="normal" fill="#16161e">24</text></g>
<g transform="translate(2041.20 695.80) scale(0.9040 1)"><text font-family="Liberation Serif" font-size="25" font-style="italic" font-weight="normal" fill="#16161e">14</text></g>
<g transform="translate(1652.25 737.70) scale(0.9994 1)"><text font-family="Liberation Serif" font-size="25" font-style="italic" font-weight="normal" fill="#16161e">PROFI 35.11P.16</text></g>
<g transform="translate(1868.64 738.80) scale(0.9465 1)"><text font-family="Liberation Serif" font-size="25" font-style="italic" font-weight="normal" fill="#16161e">35</text></g>
<g transform="translate(1956.40 738.80) scale(0.8800 1)"><text font-family="Liberation Serif" font-size="25" font-style="italic" font-weight="normal" fill="#16161e">16</text></g>
<g transform="translate(2040.50 738.80) scale(0.9640 1)"><text font-family="Liberation Serif" font-size="25" font-style="italic" font-weight="normal" fill="#16161e">12</text></g>
<g transform="translate(1652.25 781.20) scale(0.9994 1)"><text font-family="Liberation Serif" font-size="25" font-style="italic" font-weight="normal" fill="#16161e">PROFI 35.11P.24</text></g>
<g transform="translate(1868.64 782.90) scale(0.9465 1)"><text font-family="Liberation Serif" font-size="25" font-style="italic" font-weight="normal" fill="#16161e">35</text></g>
<g transform="translate(1953.80 782.90) scale(0.9840 1)"><text font-family="Liberation Serif" font-size="25" font-style="italic" font-weight="normal" fill="#16161e">24</text></g>
<g transform="translate(2040.50 782.90) scale(0.9320 1)"><text font-family="Liberation Serif" font-size="25" font-style="italic" font-weight="normal" fill="#16161e">14</text></g>
<g transform="translate(1652.25 825.80) scale(0.9994 1)"><text font-family="Liberation Serif" font-size="25" font-style="italic" font-weight="normal" fill="#16161e">PROFI 45.11P.16</text></g>
<g transform="translate(1868.40 826.80) scale(0.9560 1)"><text font-family="Liberation Serif" font-size="25" font-style="italic" font-weight="normal" fill="#16161e">45</text></g>
<g transform="translate(1956.40 826.80) scale(0.8800 1)"><text font-family="Liberation Serif" font-size="25" font-style="italic" font-weight="normal" fill="#16161e">16</text></g>
<g transform="translate(2040.50 826.80) scale(0.9640 1)"><text font-family="Liberation Serif" font-size="25" font-style="italic" font-weight="normal" fill="#16161e">12</text></g>
<g transform="translate(1652.25 868.40) scale(0.9994 1)"><text font-family="Liberation Serif" font-size="25" font-style="italic" font-weight="normal" fill="#16161e">PROFI 45.11P.24</text></g>
<g transform="translate(1868.40 869.50) scale(0.9560 1)"><text font-family="Liberation Serif" font-size="25" font-style="italic" font-weight="normal" fill="#16161e">45</text></g>
<g transform="translate(1953.80 869.50) scale(0.9840 1)"><text font-family="Liberation Serif" font-size="25" font-style="italic" font-weight="normal" fill="#16161e">24</text></g>
<g transform="translate(2040.50 869.50) scale(0.9320 1)"><text font-family="Liberation Serif" font-size="25" font-style="italic" font-weight="normal" fill="#16161e">14</text></g>
</svg></body></html>
